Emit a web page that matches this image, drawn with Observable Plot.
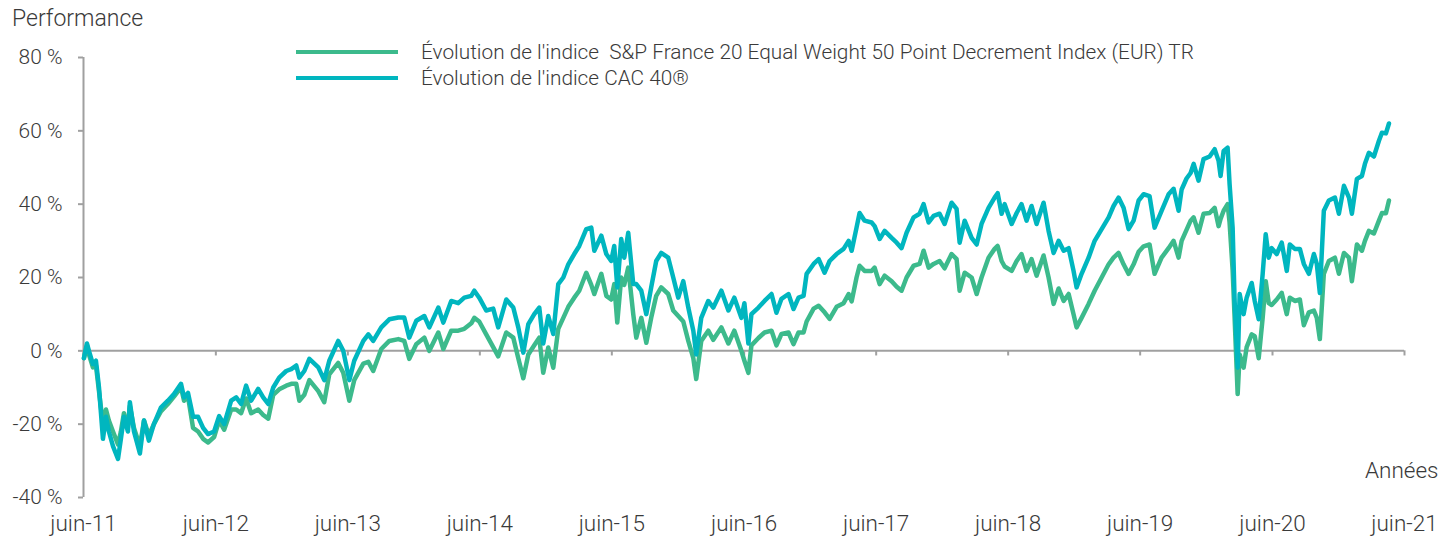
<!DOCTYPE html>
<html><head><meta charset="utf-8">
<script src="https://cdn.jsdelivr.net/npm/d3@7"></script>
<script src="https://cdn.jsdelivr.net/npm/@observablehq/plot@0.6"></script>
<style>
body{margin:0;background:#fff}
#wrap{position:relative;width:1455px;height:539px;font-family:Roboto,sans-serif;font-weight:300;color:#3a3a3a}
.lbl{position:absolute;white-space:pre;line-height:1}
.sw{position:absolute;height:4px;width:102px}
</style></head>
<body><div id="wrap"></div>
<script>
// Time as decimal years
const years = [
2011.417,2011.440,2011.455,2011.485,2011.508,2011.531,2011.561,2011.584,2011.606,2011.637,
2011.675,2011.697,2011.720,2011.750,2011.765,2011.796,2011.841,2011.872,2011.909,2011.947,
2012.000,2012.053,2012.099,2012.152,2012.175,2012.205,2012.243,2012.281,2012.319,2012.356,
2012.402,2012.440,2012.478,2012.531,2012.569,2012.606,2012.644,2012.682,2012.735,2012.773,
2012.811,2012.849,2012.894,2012.947,2012.985,2013.023,2013.046,2013.084,2013.122,2013.190,
2013.235,2013.273,2013.341,2013.379,2013.425,2013.462,2013.531,2013.569,2013.606,2013.667,
2013.728,2013.796,2013.841,2013.879,2013.932,2013.993,2014.031,2014.099,2014.137,2014.197,
2014.250,2014.296,2014.349,2014.372,2014.409,2014.462,2014.515,2014.553,2014.614,2014.667,
2014.705,2014.743,2014.781,2014.826,2014.864,2014.894,2014.932,2014.970,2015.008,2015.046,
2015.084,2015.129,2015.167,2015.220,2015.258,2015.281,2015.334,2015.372,2015.409,2015.432,
2015.455,2015.485,2015.508,2015.538,2015.576,2015.599,2015.637,2015.675,2015.712,2015.750,
2015.788,2015.841,2015.879,2015.917,2015.955,2015.993,2016.031,2016.053,2016.091,2016.144,
2016.182,2016.243,2016.296,2016.341,2016.394,2016.417,2016.447,2016.470,2016.523,2016.569,
2016.622,2016.659,2016.697,2016.750,2016.788,2016.826,2016.864,2016.887,2016.940,2016.978,
2017.023,2017.061,2017.114,2017.167,2017.205,2017.228,2017.265,2017.288,2017.326,2017.379,
2017.402,2017.440,2017.478,2017.531,2017.569,2017.606,2017.644,2017.697,2017.743,2017.773,
2017.811,2017.849,2017.894,2017.932,2017.985,2018.023,2018.046,2018.084,2018.137,2018.175,
2018.212,2018.265,2018.311,2018.334,2018.364,2018.387,2018.440,2018.478,2018.515,2018.553,
2018.591,2018.629,2018.682,2018.720,2018.758,2018.796,2018.834,2018.872,2018.909,2018.932,
2018.970,2019.023,2019.069,2019.122,2019.175,2019.212,2019.250,2019.288,2019.326,2019.364,
2019.402,2019.440,2019.485,2019.523,2019.576,2019.629,2019.667,2019.705,2019.728,2019.765,
2019.796,2019.819,2019.856,2019.894,2019.940,2019.978,2020.008,2020.023,2020.046,2020.076,
2020.091,2020.114,2020.129,2020.152,2020.167,2020.197,2020.220,2020.258,2020.281,2020.311,
2020.341,2020.364,2020.387,2020.409,2020.447,2020.485,2020.523,2020.546,2020.584,2020.622,
2020.652,2020.690,2020.728,2020.750,2020.773,2020.803,2020.841,2020.887,2020.917,2020.955,
2020.993,2021.015,2021.053,2021.091,2021.114,2021.144,2021.182,2021.220,2021.243,2021.273,
2021.296
];
// Évolution de l'indice CAC 40® (%)
const cac = [
-2,2,0,-3.6,-2.7,-10,-24,-18,-22,-26,
-29.5,-24,-18,-22,-14,-22,-28,-19,-24.5,-20,
-15.5,-13.6,-11.8,-9,-12.7,-11.5,-18,-18,-21,-22.7,
-22,-17.8,-20,-13.6,-12.7,-14.5,-9.5,-13.6,-10.4,-12.7,
-14.5,-10,-7.3,-5.5,-5,-4,-7.3,-5.5,-2.2,-4.5,
-8,-2.7,2.7,0,-8,-2.7,2.7,4.5,2.7,6.4,
8.6,9.1,9.1,3.6,8.2,9.5,6.4,11.8,7.7,13.6,
13,14.5,15,16.4,14.5,11,11.5,6.4,14,11.8,
6.4,-0.5,7.3,10,11.8,2,9.5,4.6,18.2,20,
23.6,26.4,28.6,33.2,33.6,27.3,31.4,26.4,24.5,28.6,
17.3,30.5,25.4,32.2,18.2,18.2,16.4,10,17.3,24.5,
26.7,25.4,20,14.5,19,11.8,5.5,-1,9,13.6,
11.8,16.4,11,14.5,9,13,2,10,11.8,13.6,
15.5,10.4,14.2,15.5,11.4,14.5,15,21,23.7,25,
21.3,24.5,26.4,27.8,30,27.3,33.6,37.6,35.5,35,
34,30.5,32.7,30.8,29.5,28,32.2,36.4,37.4,40,
35,36.8,37.4,34.6,40.4,38.7,29.5,35.5,30.8,29,
34.6,39,41.8,43,37.4,40,34.6,37.6,40,35.5,
39.5,34.6,40.4,32.7,26.7,30,27.3,28,21.8,17.3,
21,25.4,30,33.2,36.4,39.5,41.8,39,33.2,35.5,
41,42.7,42.2,33.6,38.2,42.7,44.2,38.2,44,47,
48.5,51,46.4,52.3,53,55,51.8,47.7,54.5,55.4,
45.5,33.6,13.6,-4.6,15.5,10,14.5,18.5,13.6,8.6,
21,31.8,25.4,28,26.4,29.5,21.8,29,27.8,27.8,
23.7,21,26.4,23.7,15.8,38.2,41,41.8,37.4,45,
41.8,37.4,46.9,47.7,51,54,53,57.3,59.5,59.3,
62
];
// Évolution de l'indice S&P France 20 Equal Weight 50 Point Decrement Index (EUR) TR (%)
const spf = [
-2,1.5,-1,-4.5,-4,-11,-20,-16,-19,-22,
-25.5,-22,-17,-21,-15,-21,-26,-19,-23,-20,
-16.5,-14.5,-12.5,-10,-13.6,-12.5,-21,-22,-24,-25,
-23.5,-19,-21.5,-16,-16,-17,-13,-17,-16,-17.5,
-18.5,-12,-10.5,-9.5,-9,-9,-13.6,-12,-8,-11,
-14,-6.4,-3.3,-6,-13.6,-8,-3.5,-3,-5.5,0.5,
2.7,3.2,2.7,-2.2,1.8,3.6,0,5,0.5,5.5,
5.5,6,7.5,9,8,4.5,1,-1.5,5,3.6,
-2,-7.5,-1,1.5,3.6,-6,0.9,-4.6,6,9,
12,14.5,16.4,21.3,18,15.5,21,15,14,18.2,
7.7,20,18,22.7,10,3.6,9,2.2,9,15,
17.3,15.5,11,9.5,8,2.7,-2,-7.7,2.7,5.5,
3,6.4,2,5.5,0,-2.7,-6,1.5,3.5,5,
5.5,1.5,4.6,5,1.8,5,5,8,11.5,12.3,
10.5,8.7,12,13,15.5,13.5,20,23.2,21.8,21.8,
22.7,18.2,20.5,19,17.5,16.4,20,23.2,23.7,27.3,
22.7,23.7,24.5,22.5,26.4,25,16.4,21.3,20,15.5,
20,25.4,27.8,28.6,24.5,23,21.8,24.5,26.4,21.8,
25,20.5,26,20,12.8,17,13.6,15.5,10,6.4,
9,12.8,16.4,20,23.6,25.4,26.7,23.6,21,23.6,
27,28.5,29,21,25.4,28,30,25.4,30,33,
35.5,36.4,32.2,37.4,37.6,39,34,36,38.2,40,
35,22,9,-11.8,-1,-4.6,1,4.5,4,-2,
9,19,13,12.5,14,15.8,10,14.5,13.6,14,
7,10.5,11,9,3.2,21,24.5,25.4,21,26.7,
25.4,19,29,27.3,30,32.7,32,35.5,37.6,37.5,
41
];
const yTicks = [-40, -20, 0, 20, 40, 60, 80];
const xTickYears = [2011, 2012, 2013, 2014, 2015, 2016, 2017, 2018, 2019, 2020, 2021];
const seriesNames = ["Évolution de l'indice  S&P France 20 Equal Weight 50 Point Decrement Index (EUR) TR", "Évolution de l'indice CAC 40®"];
const colors = ["#3cba8c", "#00b6bf"];

function toDate(y) {
  const yr = Math.floor(y);
  const s = Date.UTC(yr, 0, 1), e = Date.UTC(yr + 1, 0, 1);
  return new Date(s + (y - yr) * (e - s));
}
const tickDates = xTickYears.map(y => new Date(Date.UTC(y, 5, 1)));
const rows = [];
years.forEach((y, i) => rows.push({date: toDate(y), v: spf[i], s: seriesNames[0]}));
years.forEach((y, i) => rows.push({date: toDate(y), v: cac[i], s: seriesNames[1]}));

const axisColor = "#a0a0a0";
const textColor = "#3a3a3a";
const chart = Plot.plot({
  width: 1455, height: 539,
  marginLeft: 83, marginRight: 51, marginTop: 57, marginBottom: 42,
  style: {fontFamily: "Roboto, sans-serif", fontSize: "21px", fontWeight: 300, background: "white", color: textColor},
  x: {type: "utc", domain: [tickDates[0], tickDates[tickDates.length - 1]]},
  y: {domain: [-40, 80]},
  color: {domain: seriesNames, range: colors},
  marks: [
    Plot.ruleX([tickDates[0]], {y1: -40, y2: 80, stroke: axisColor, strokeWidth: 2}),
    Plot.ruleY([0], {stroke: axisColor, strokeWidth: 2}),
    Plot.ruleX(tickDates, {y1: 0, y2: -1.4, stroke: axisColor, strokeWidth: 2}),
    Plot.axisY({ticks: yTicks, tickFormat: d => `${d} %`, tickSize: 5, tickPadding: 16, stroke: axisColor, strokeWidth: 2, fill: textColor, fontSize: 21, label: null}),
    Plot.axisX({ticks: tickDates, tickSize: 0, tickPadding: 18, tickFormat: d => "juin-" + String(d.getUTCFullYear()).slice(2), fill: textColor, fontSize: 22.5, label: null}),
    Plot.line(rows, {x: "date", y: "v", stroke: "s", z: "s", strokeWidth: 4.5, strokeLinejoin: "round", strokeLinecap: "round"})
  ]
});
const wrap = document.getElementById("wrap");
wrap.appendChild(chart);
function lbl(text, left, top, size) {
  const d = document.createElement("div");
  d.className = "lbl"; d.textContent = text;
  d.style.left = left + "px"; d.style.top = top + "px"; d.style.fontSize = size + "px";
  wrap.appendChild(d);
}
function sw(color, left, top) {
  const d = document.createElement("div");
  d.className = "sw"; d.style.background = color;
  d.style.left = left + "px"; d.style.top = top + "px";
  wrap.appendChild(d);
}
lbl("Performance", 12, 7, 23);
sw(colors[0], 296, 50); lbl(seriesNames[0], 421, 42, 20.8);
sw(colors[1], 296, 76); lbl(seriesNames[1], 421, 68, 20.8);
lbl("Années", 1365, 459, 22.5);
</script>
</body></html>
